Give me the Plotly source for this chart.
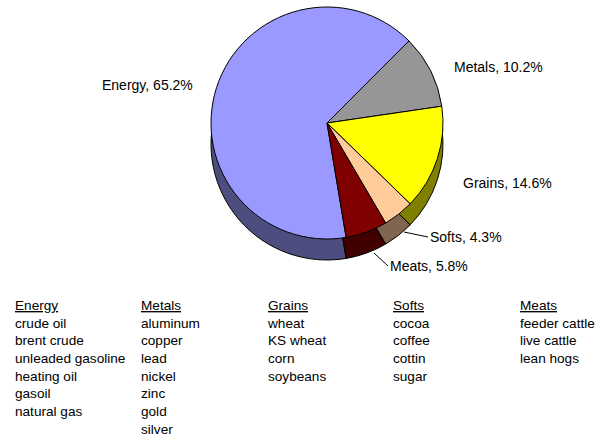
import plotly.graph_objects as go

# ---- data ----
categories = ["Energy", "Metals", "Grains", "Softs", "Meats"]
shares = [65.2, 10.2, 14.6, 4.3, 5.8]
top_colors = ["#9999FF", "#969696", "#FFFF00", "#FFCC99", "#800000"]
side_colors = ["#4D4D80", "#4B4B4B", "#808000", "#806650", "#400000"]

energy_items = ["crude oil", "brent crude", "unleaded gasoline", "heating oil", "gasoil", "natural gas"]
metals_items = ["aluminum", "copper", "lead", "nickel", "zinc", "gold", "silver"]
grains_items = ["wheat", "KS wheat", "corn", "soybeans"]
softs_items = ["cocoa", "coffee", "cottin", "sugar"]
meats_items = ["feeder cattle", "live cattle", "lean hogs"]

W, H = 596, 439
FONT = "Liberation Sans, Arial, sans-serif"

cx, cy, r, depth = 327, 123, 116, 21


def px_x(v):
    return v / W


def px_y(v):
    return 1 - v / H


fig = go.Figure()

# side (depth) of the pie: same slices drawn darker and shifted down
fig.add_trace(go.Pie(
    labels=categories, values=shares, sort=False, direction="clockwise",
    rotation=170.5, textinfo="none", hoverinfo="skip", showlegend=False,
    marker=dict(colors=side_colors, line=dict(color="black", width=1)),
    domain=dict(x=[px_x(cx - r), px_x(cx + r)], y=[px_y(cy + depth + r), px_y(cy + depth - r)]),
))
# top face
fig.add_trace(go.Pie(
    labels=categories, values=shares, sort=False, direction="clockwise",
    rotation=170.5, textinfo="none", showlegend=False,
    marker=dict(colors=top_colors, line=dict(color="black", width=1)),
    domain=dict(x=[px_x(cx - r), px_x(cx + r)], y=[px_y(cy + r), px_y(cy - r)]),
))

# slice labels
lab = [f"{c}, {v}%" for c, v in zip(categories, shares)]
ann = [
    dict(text=lab[0], x=px_x(195), y=px_y(85), xanchor="right", yanchor="middle", showarrow=False),
    dict(text=lab[1], x=px_x(452), y=px_y(67), xanchor="left", yanchor="middle", showarrow=False),
    dict(text=lab[2], x=px_x(461), y=px_y(183), xanchor="left", yanchor="middle", showarrow=False),
    dict(text=lab[3], x=px_x(404), y=px_y(232), ax=24, ay=5, xanchor="left", yanchor="middle",
         showarrow=True, arrowhead=0, arrowwidth=1, arrowcolor="black"),
    dict(text=lab[4], x=px_x(374), y=px_y(253), ax=14, ay=13, xanchor="left", yanchor="middle",
         showarrow=True, arrowhead=0, arrowwidth=1, arrowcolor="black"),
]
for a in ann:
    a.update(font=dict(family=FONT, size=14, color="black"))

# component lists below the pie
cols = [energy_items, metals_items, grains_items, softs_items, meats_items]
col_left = [14, 140, 266, 392, 519]
for name, items, xl in zip(categories, cols, col_left):
    ann.append(dict(
        text="<br>".join([f"<u>{name}</u>"] + items),
        x=px_x(xl), y=px_y(297), xanchor="left", yanchor="top", align="left",
        showarrow=False, borderpad=0,
        font=dict(family=FONT, size=13.6, color="black"),
    ))

for a in ann:
    a.update(xref="paper", yref="paper")

fig.update_layout(
    width=W, height=H, margin=dict(l=0, r=0, t=0, b=0),
    paper_bgcolor="white", plot_bgcolor="white",
    annotations=ann,
)

fig.write_html("out.html")
